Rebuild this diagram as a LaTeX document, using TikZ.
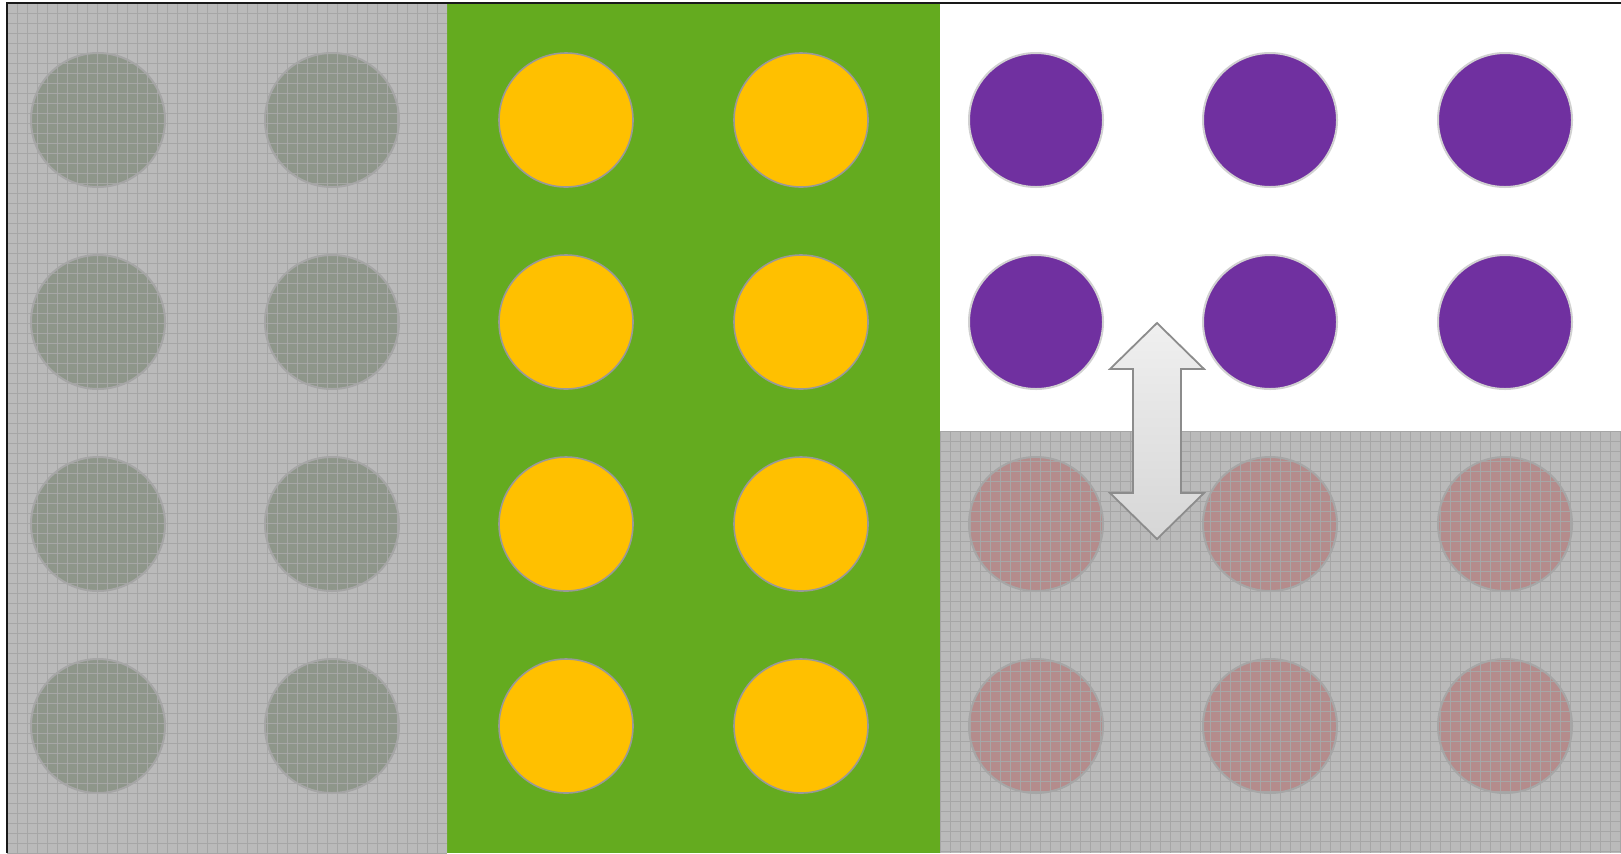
\documentclass[tikz,border=0pt]{standalone}
\usetikzlibrary{calc}
\definecolor{panelgray}{HTML}{BABABA}
\definecolor{gridgray}{HTML}{A6A6A6}
\definecolor{leafgreen}{HTML}{64AB1F}
\definecolor{sun}{HTML}{FFC000}
\definecolor{plum}{HTML}{7030A0}
\definecolor{sage}{HTML}{8E968A}
\definecolor{rose}{HTML}{B48C8C}
\tikzset{
  dot/.style={circle, minimum size=67pt, inner sep=0pt},
  sagedot/.style={dot, fill=sage, draw=gridgray, line width=1pt},
  rosedot/.style={dot, fill=rose, draw=gridgray, line width=1pt},
  sundot/.style={dot, fill=sun, draw=black!40, line width=0.8pt},
  plumdot/.style={dot, fill=plum, draw=black!18, line width=1pt},
  gridlines/.style={draw=gridgray, line width=0.5pt},
}
\begin{document}
\begin{tikzpicture}[x=0.5pt, y=-0.5pt]
\useasboundingbox (0,0) rectangle (1621,853);
\fill[white] (0,0) rectangle (1621,853);
% panels
\fill[panelgray] (7,3) rectangle (447,853);
\fill[leafgreen] (447,3) rectangle (940,853);
\fill[panelgray] (940,431) rectangle (1621,853);
% circles
\foreach \r/\y in {1/120,2/322,3/524,4/726}{
  \node[sagedot] (g1\r) at (98,\y) {};
  \node[sagedot] (g2\r) at (332,\y) {};
  \node[sundot] (y1\r) at (566,\y) {};
  \node[sundot] (y2\r) at (801,\y) {};
}
\foreach \c/\x in {1/1036,2/1270,3/1505}{
  \node[plumdot] (p\c1) at (\x,120) {};
  \node[plumdot] (p\c2) at (\x,322) {};
  \node[rosedot] (r\c3) at (\x,524) {};
  \node[rosedot] (r\c4) at (\x,726) {};
}
% grid texture over gray panels
\begin{scope}
  \clip (7,3) rectangle (447,853);
  \foreach \i in {0,...,45}{
    \draw[gridlines] (7+10*\i,3) -- (7+10*\i,853);
  }
  \foreach \j in {0,...,85}{
    \draw[gridlines] (7,3+10*\j) -- (447,3+10*\j);
  }
\end{scope}
\begin{scope}
  \clip (940,431) rectangle (1621,853);
  \foreach \i in {0,...,69}{
    \draw[gridlines] (940+10*\i,431) -- (940+10*\i,853);
  }
  \foreach \j in {0,...,43}{
    \draw[gridlines] (940,431+10*\j) -- (1621,431+10*\j);
  }
\end{scope}
% double arrow
\shade[top color=black!6, bottom color=black!16, draw=black!45, line width=0.9pt]
  (1157,323) -- (1204,369) -- (1181,369) -- (1181,493) -- (1204,493) -- (1157,539)
  -- (1110,493) -- (1133,493) -- (1133,369) -- (1110,369) -- cycle;
% frame
\draw[black!90, line width=1.2pt] (7,853) -- (7,3) -- (1621,3);
\end{tikzpicture}
\end{document}
